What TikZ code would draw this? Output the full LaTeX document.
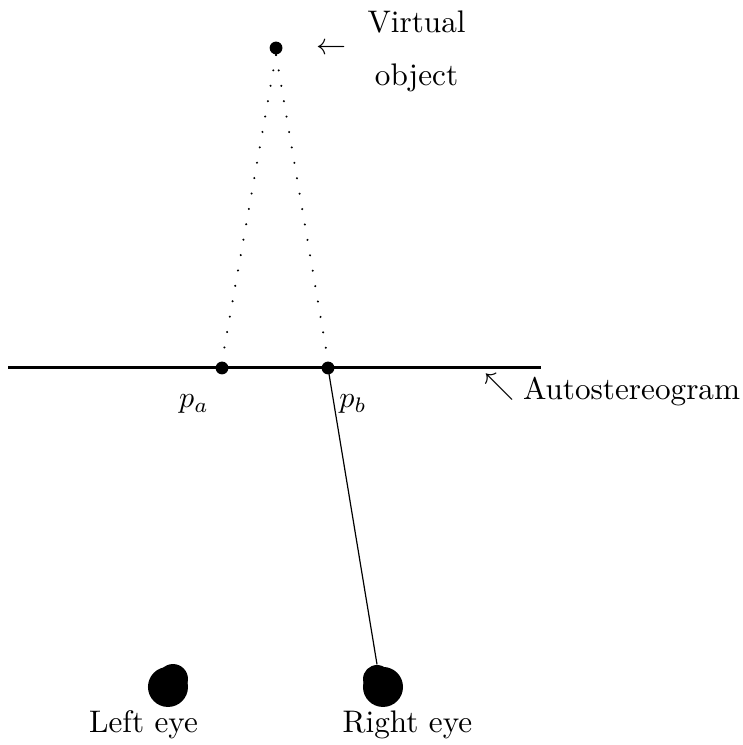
\documentclass[tikz,border=0pt]{standalone}
\usepackage{amsmath}
\usepackage{amssymb}
\usetikzlibrary{positioning, calc}

\begin{document}
\begin{tikzpicture}[font=\fontsize{10.4}{12.5}\selectfont,
    dotpt/.style={circle, fill=black, inner sep=0pt, minimum size=0.15cm},
    eyeball/.style={circle, fill=black, inner sep=0pt},
    sight/.style={line width=0.75pt, dash pattern=on 0.01pt off 5.2pt, line cap=round}]
    \useasboundingbox (0,0) rectangle (8.693,8.728);

    % screen and points
    \draw[line width=1pt] (0.094,4.417) -- (6.338,4.417);
    \node[dotpt] (obj) at (3.234,8.166) {};
    \node[dotpt] (pa) at (2.601,4.417) {};
    \node[dotpt] (pb) at (3.843,4.417) {};
    \node (pal) at (2.273,3.995) {$p_a$};
    \node (pbl) at (4.136,3.995) {$p_b$};

    % eyes
    \node[eyeball, minimum size=0.469cm] (leye) at (1.968,0.680) {};
    \node[eyeball, minimum size=0.351cm] (leyeb) at (2.027,0.773) {};
    \node[eyeball, minimum size=0.469cm] (reye) at (4.487,0.680) {};
    \node[eyeball, minimum size=0.328cm] (reyeb) at (4.417,0.773) {};
    \node (leyel) at (1.681,0.234) {Left eye};
    \node (reyel) at (4.774,0.234) {Right eye};

    % lines of sight
    \draw[sight] (obj.south) -- (pa.north);
    \draw[sight] (obj.south) -- (pb.north);
    \draw[thin] (pb.center) -- (reyeb.north);

    % labels
    \node (objarr) at (3.878,8.154) {$\leftarrow$};
    \node[align=center] (objl) at (4.880,8.131) {Virtual\\[5.2pt]object};
    \node (scrarr) at (5.846,4.194) {$\nwarrow$};
    \node (scrl) at (7.399,4.136) {Autostereogram};
\end{tikzpicture}
\end{document}
